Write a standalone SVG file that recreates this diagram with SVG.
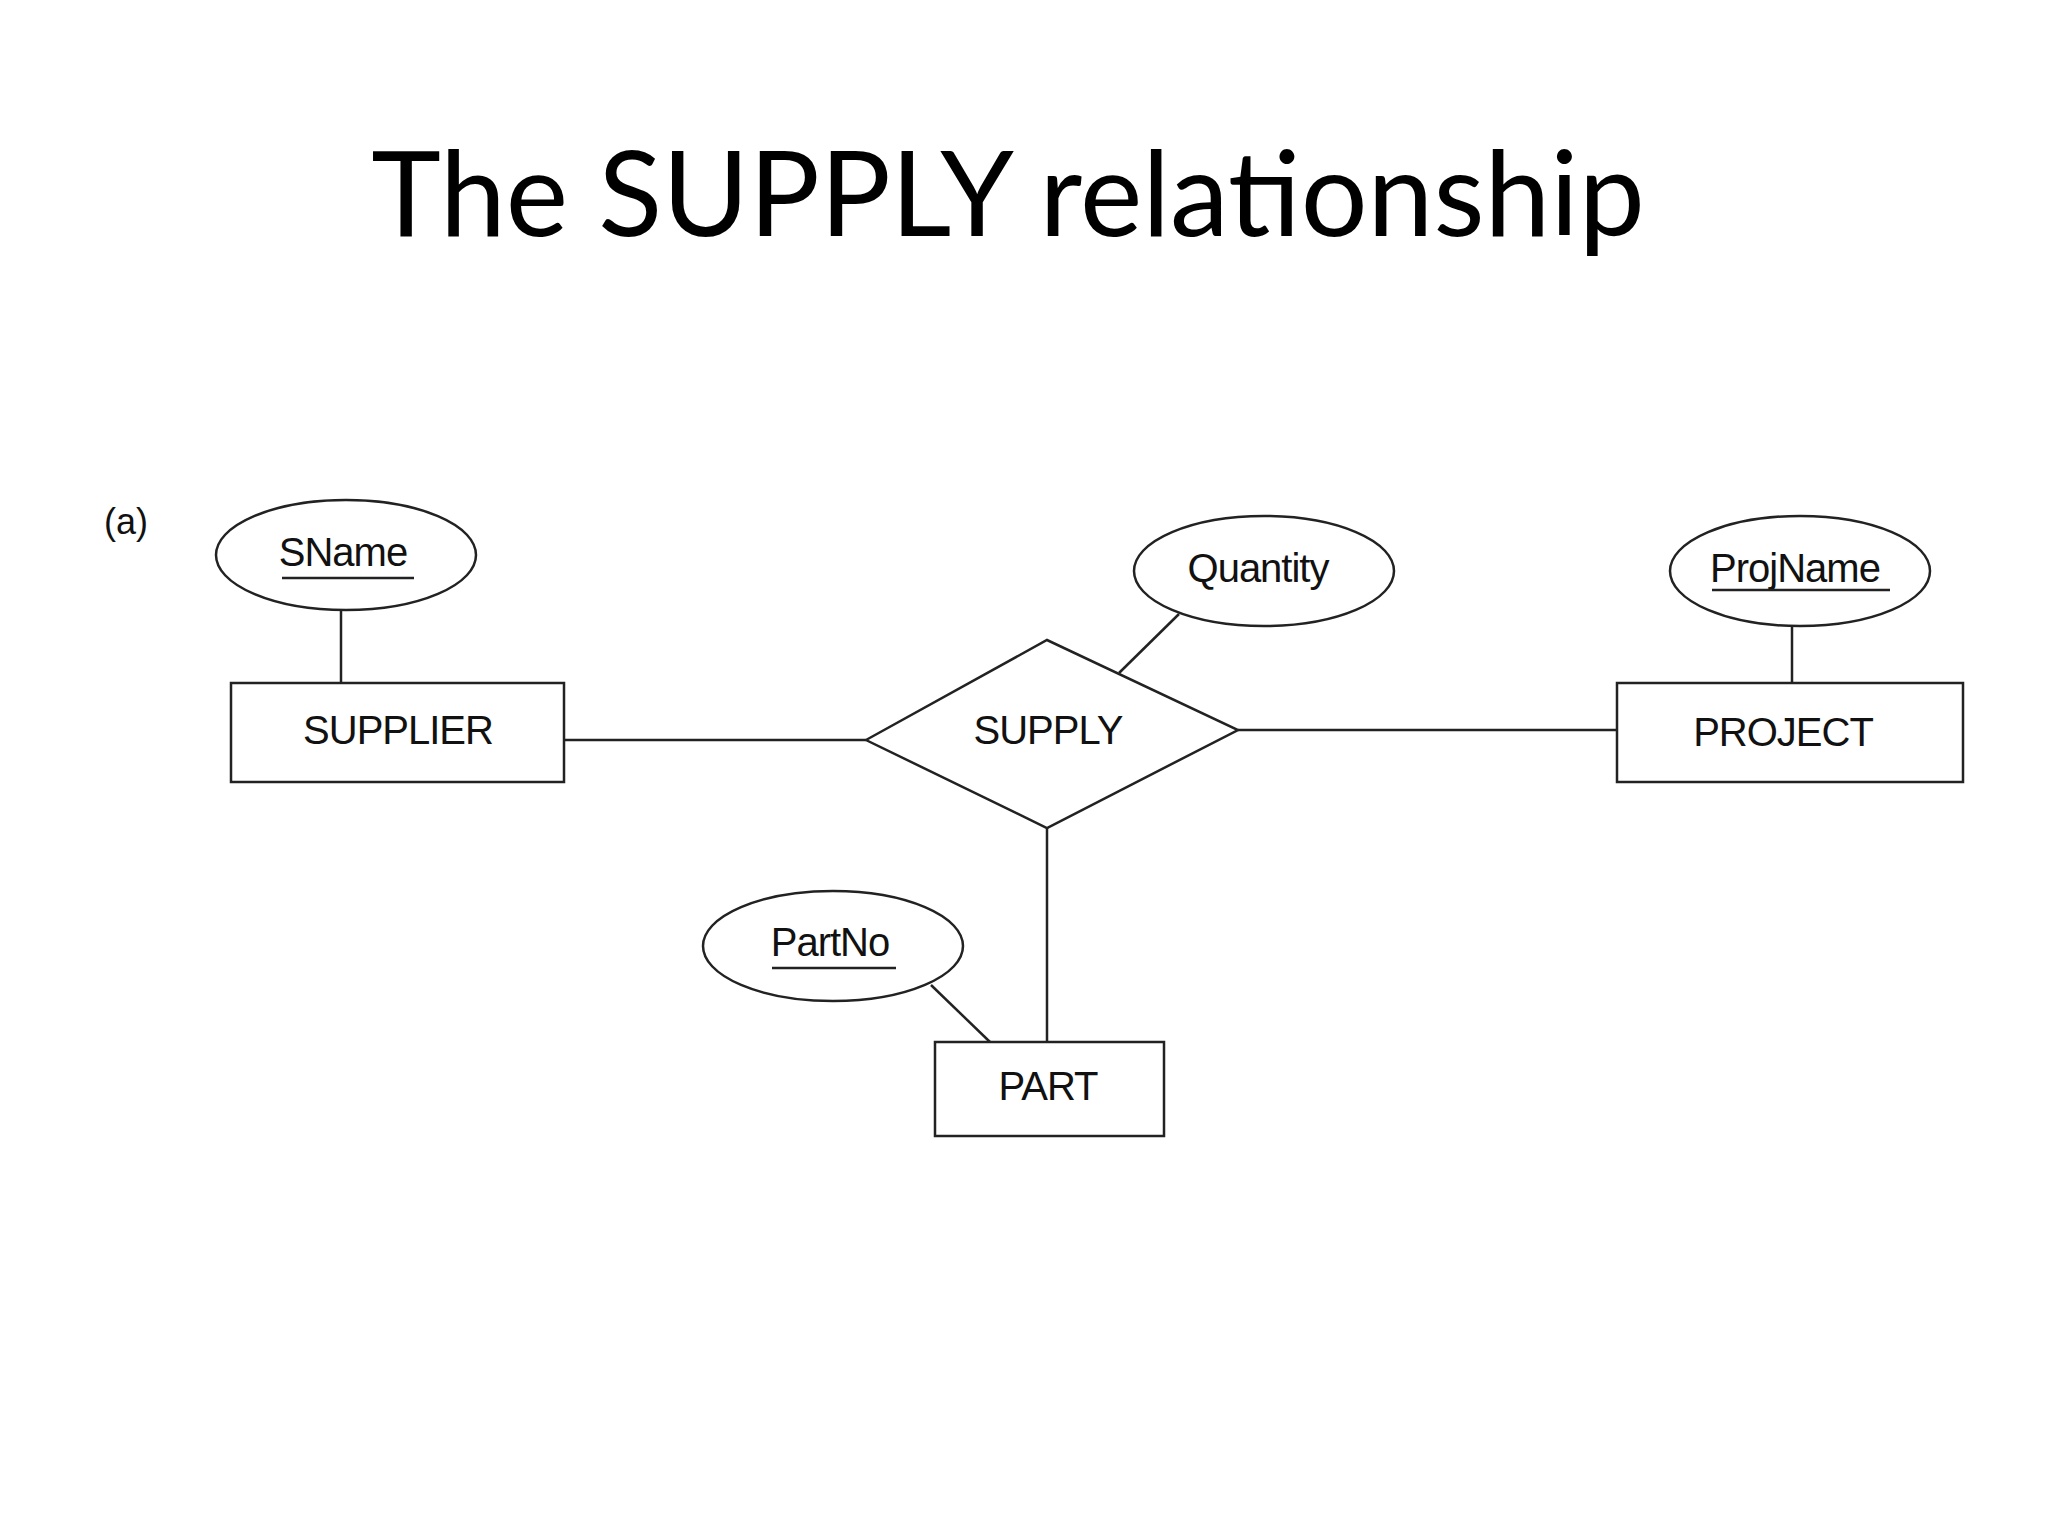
<svg xmlns="http://www.w3.org/2000/svg" width="2048" height="1536" viewBox="0 0 2048 1536">
<style>
.s{fill:#fff;stroke:#222;stroke-width:2.5}
.l{stroke:#222;stroke-width:2.5;fill:none}
.t{font-family:"Liberation Sans",Arial,sans-serif;font-size:40px;fill:#111;text-anchor:middle;letter-spacing:-1px}
</style>
<rect width="2048" height="1536" fill="#fff"/>
<text x="1008" y="236" font-family="Lato,'Open Sans',sans-serif" font-size="118" text-anchor="middle" fill="#000">The SUPPLY relationship</text>
<text x="104" y="534" font-family="'Liberation Sans',Arial,sans-serif" font-size="36" fill="#111">(a)</text>
<g id="connectors">
<line class="l" x1="341" y1="610" x2="341" y2="683"/>
<line class="l" x1="564" y1="740" x2="866" y2="740"/>
<line class="l" x1="1119" y1="673" x2="1179" y2="614"/>
<line class="l" x1="1792" y1="627" x2="1792" y2="683"/>
<line class="l" x1="1238" y1="730" x2="1617" y2="730"/>
<line class="l" x1="1047" y1="828" x2="1047" y2="1042"/>
<line class="l" x1="931" y1="985" x2="990" y2="1042"/>
</g>
<g id="sname"><ellipse class="s" cx="346" cy="555" rx="130" ry="55"/><text class="t" x="343" y="566">SName</text><line class="l" x1="282" y1="578" x2="414" y2="578"/></g>
<g id="supplier"><rect class="s" x="231" y="683" width="333" height="99"/><text class="t" x="398" y="744">SUPPLIER</text></g>
<g id="supply"><polygon class="s" points="866,740 1047,640 1238,730 1047,828"/><text class="t" x="1048" y="744">SUPPLY</text></g>
<g id="quantity"><ellipse class="s" cx="1264" cy="571" rx="130" ry="55"/><text class="t" x="1258" y="582">Quantity</text></g>
<g id="projname"><ellipse class="s" cx="1800" cy="571" rx="130" ry="55"/><text class="t" x="1795" y="582">ProjName</text><line class="l" x1="1712" y1="590" x2="1890" y2="590"/></g>
<g id="project"><rect class="s" x="1617" y="683" width="346" height="99"/><text class="t" x="1783" y="746">PROJECT</text></g>
<g id="partno"><ellipse class="s" cx="833" cy="946" rx="130" ry="55"/><text class="t" x="830" y="956">PartNo</text><line class="l" x1="772" y1="968" x2="896" y2="968"/></g>
<g id="part"><rect class="s" x="935" y="1042" width="229" height="94"/><text class="t" x="1048" y="1100">PART</text></g>
</svg>
